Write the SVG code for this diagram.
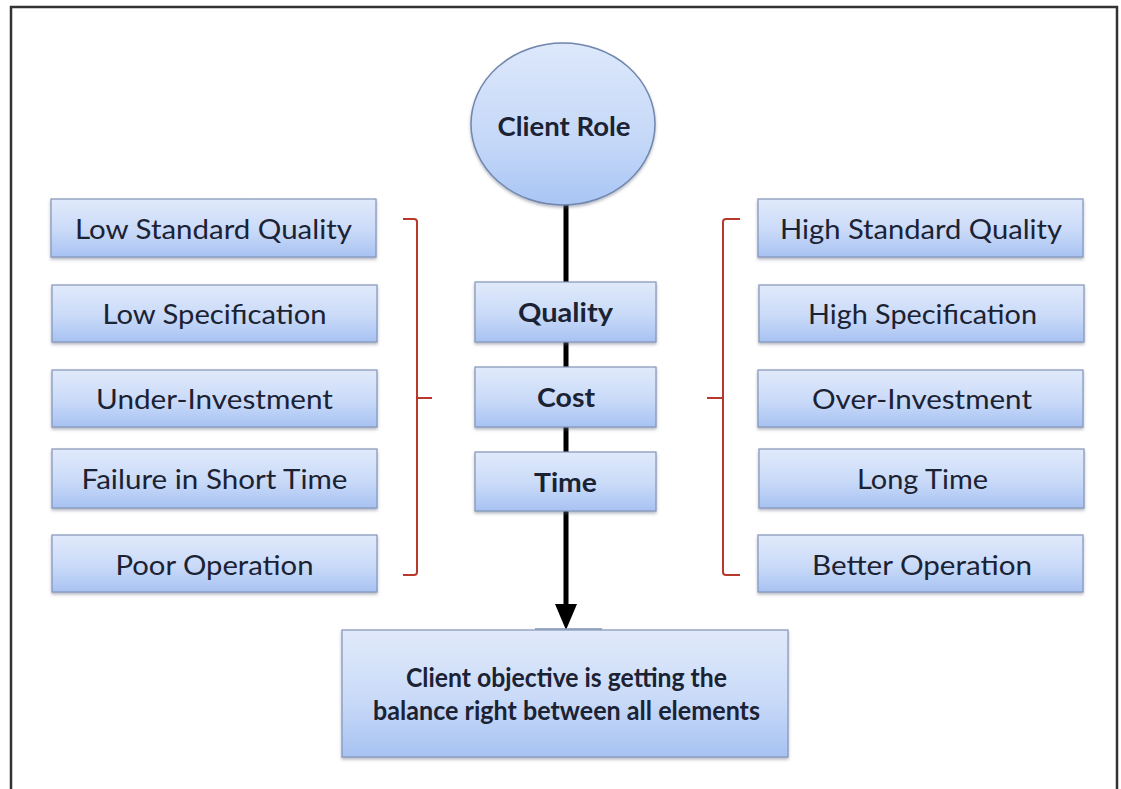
<svg xmlns="http://www.w3.org/2000/svg" width="1121" height="789" viewBox="0 0 1121 789">
  <defs>
    <linearGradient id="boxFill" x1="0" y1="0" x2="0" y2="1">
      <stop offset="0" stop-color="#e1eafb"/>
      <stop offset="0.55" stop-color="#c9daf8"/>
      <stop offset="1" stop-color="#a7c2f2"/>
    </linearGradient>
    <linearGradient id="circleFill" x1="0" y1="0" x2="0" y2="1">
      <stop offset="0" stop-color="#dde8fb"/>
      <stop offset="0.6" stop-color="#c5d8f8"/>
      <stop offset="1" stop-color="#a9c5f5"/>
    </linearGradient>
    <filter id="shadow" x="-10%" y="-20%" width="120%" height="150%">
      <feDropShadow dx="0" dy="2" stdDeviation="1.8" flood-color="#5a6478" flood-opacity="0.45"/>
    </filter>
  </defs>
  <style>
    .box { fill: url(#boxFill); stroke: #8395b8; stroke-width: 1.2; filter: url(#shadow); }
    .lbl { font-family: Lato, "Open Sans", "Liberation Sans", sans-serif; font-size: 27px; fill: #1b2233; text-anchor: middle; }
    .bold { font-weight: bold; }
    .bracket { fill: none; stroke: #b8392c; stroke-width: 2; stroke-linejoin: round; }
    .conn { stroke: #000; stroke-width: 5; fill: none; }
  </style>

  <rect width="1121" height="789" fill="#ffffff"/>
  <!-- outer frame (open at the bottom) -->
  <path d="M11 789 V7 H1117 V789" fill="none" stroke="#333" stroke-width="2.5"/>

  <!-- connectors -->
  <g id="connectors">
    <line class="conn" x1="566" y1="200" x2="566" y2="610"/>
    <polygon points="555,604 577,604 566,630" fill="#000"/>
    <path d="M535 629 H602" stroke="#8395b8" stroke-width="1.5" fill="none"/>
    <!-- left bracket -->
    <path class="bracket" d="M403 219 H414 Q417 219 417 222 V572 Q417 575 414 575 H403 M417 398 H432"/>
    <!-- right bracket -->
    <path class="bracket" d="M740 219 H726 Q723 219 723 222 V572 Q723 575 726 575 H740 M723 398 H707"/>
  </g>

  <!-- top node -->
  <g id="client-role">
    <ellipse cx="563" cy="124" rx="92" ry="81" fill="url(#circleFill)" stroke="#6f86ad" stroke-width="1.5" filter="url(#shadow)"/>
    <text class="lbl bold" x="564" y="136" font-size="23" textLength="133" lengthAdjust="spacingAndGlyphs">Client Role</text>
  </g>

  <!-- left column -->
  <g id="low-standard-quality">
    <rect class="box" x="51" y="199" width="325" height="58"/>
    <text class="lbl" x="213.5" y="239" textLength="277" lengthAdjust="spacingAndGlyphs">Low Standard Quality</text>
  </g>
  <g id="low-specification">
    <rect class="box" x="52" y="285" width="325" height="57"/>
    <text class="lbl" x="214.5" y="324" textLength="224" lengthAdjust="spacingAndGlyphs">Low Specification</text>
  </g>
  <g id="under-investment">
    <rect class="box" x="52" y="370" width="325" height="57"/>
    <text class="lbl" x="214.5" y="409" textLength="237" lengthAdjust="spacingAndGlyphs">Under-Investment</text>
  </g>
  <g id="failure-short-time">
    <rect class="box" x="52" y="449" width="325" height="59"/>
    <text class="lbl" x="214.5" y="489" textLength="266" lengthAdjust="spacingAndGlyphs">Failure in Short Time</text>
  </g>
  <g id="poor-operation">
    <rect class="box" x="52" y="535" width="325" height="57"/>
    <text class="lbl" x="214.5" y="575" textLength="198" lengthAdjust="spacingAndGlyphs">Poor Operation</text>
  </g>

  <!-- centre column -->
  <g id="quality">
    <rect class="box" x="475" y="282" width="181" height="60"/>
    <text class="lbl bold" x="565.5" y="322" textLength="95" lengthAdjust="spacingAndGlyphs">Quality</text>
  </g>
  <g id="cost">
    <rect class="box" x="475" y="367" width="181" height="60"/>
    <text class="lbl bold" x="566" y="407" textLength="58" lengthAdjust="spacingAndGlyphs">Cost</text>
  </g>
  <g id="time">
    <rect class="box" x="475" y="452" width="181" height="59"/>
    <text class="lbl bold" x="565.5" y="492" textLength="63" lengthAdjust="spacingAndGlyphs">Time</text>
  </g>

  <!-- right column -->
  <g id="high-standard-quality">
    <rect class="box" x="758" y="199" width="325" height="58"/>
    <text class="lbl" x="921" y="239" textLength="282" lengthAdjust="spacingAndGlyphs">High Standard Quality</text>
  </g>
  <g id="high-specification">
    <rect class="box" x="759" y="285" width="325" height="57"/>
    <text class="lbl" x="922.5" y="324" textLength="229" lengthAdjust="spacingAndGlyphs">High Specification</text>
  </g>
  <g id="over-investment">
    <rect class="box" x="758" y="370" width="325" height="57"/>
    <text class="lbl" x="922" y="409" textLength="220" lengthAdjust="spacingAndGlyphs">Over-Investment</text>
  </g>
  <g id="long-time">
    <rect class="box" x="759" y="449" width="325" height="59"/>
    <text class="lbl" x="922.5" y="489" textLength="131" lengthAdjust="spacingAndGlyphs">Long Time</text>
  </g>
  <g id="better-operation">
    <rect class="box" x="758" y="535" width="325" height="57"/>
    <text class="lbl" x="922" y="575" textLength="220" lengthAdjust="spacingAndGlyphs">Better Operation</text>
  </g>

  <!-- objective -->
  <g id="objective">
    <rect class="box" x="342" y="630" width="446" height="127"/>
    <text class="lbl bold" x="566.5" y="687" font-size="22" textLength="321" lengthAdjust="spacingAndGlyphs">Client objective is getting the</text>
    <text class="lbl bold" x="566.5" y="720" font-size="22" textLength="387" lengthAdjust="spacingAndGlyphs">balance right between all elements</text>
  </g>
</svg>
